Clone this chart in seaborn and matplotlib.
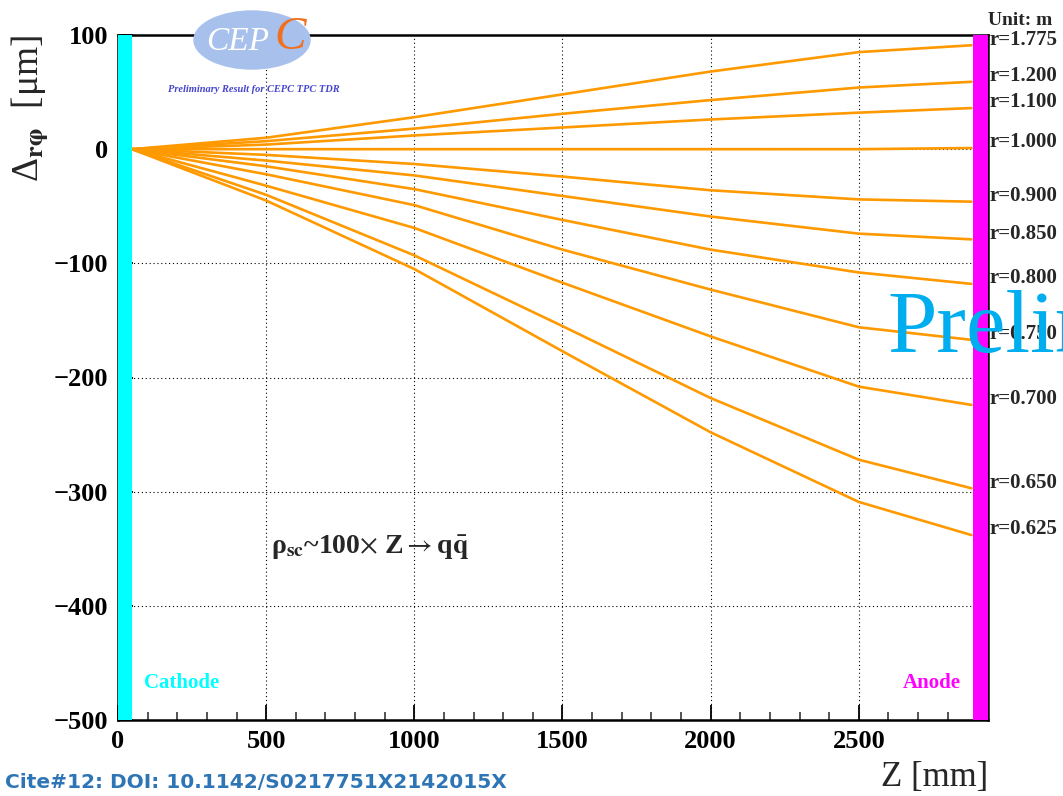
import numpy as np
import pandas as pd
import seaborn as sns
import matplotlib.pyplot as plt
from matplotlib.patches import Ellipse
import matplotlib.transforms as mtransforms

# drift distance Z [mm] where the curves were read
z_mm = [47, 500, 1000, 1500, 2000, 2500, 2880]

# r-phi distortion [um] for each radius
radii = ["1.775", "1.200", "1.100", "1.000", "0.900", "0.850",
         "0.800", "0.750", "0.700", "0.650", "0.625"]
d_1775 = [0, 10, 28, 48, 68, 85, 91]
d_1200 = [0, 7, 18, 31, 43, 54, 59]
d_1100 = [0, 4, 12, 19, 26, 32, 36]
d_1000 = [0, 0, 0, 0, 0, 0, 1]
d_0900 = [0, -5, -13, -24, -36, -44, -46]
d_0850 = [0, -10, -23, -41, -59, -74, -79]
d_0800 = [0, -15, -35, -62, -88, -108, -118]
d_0750 = [0, -22, -49, -88, -123, -156, -167]
d_0700 = [0, -32, -69, -117, -164, -208, -224]
d_0650 = [0, -40, -93, -155, -218, -272, -297]
d_0625 = [0, -45, -105, -177, -248, -309, -338]
series = [d_1775, d_1200, d_1100, d_1000, d_0900, d_0850,
          d_0800, d_0750, d_0700, d_0650, d_0625]

yticks = [100, 0, -100, -200, -300, -400, -500]
xticks = [0, 500, 1000, 1500, 2000, 2500]

rows = []
for r, vals in zip(radii, series):
    for z, v in zip(z_mm, vals):
        rows.append({"Z": z, "d": v, "r": r})
df = pd.DataFrame(rows)

sns.set_theme(style="ticks")
plt.rcParams["font.family"] = ["Liberation Serif", "DejaVu Serif"]
plt.rcParams["mathtext.fontset"] = "stix"

orange = "#ff9900"
fig = plt.figure(figsize=(10.63, 7.96), dpi=100)
ax = fig.add_axes([118 / 1063, 1 - 720 / 796, 870 / 1063, 685 / 796])

ax.axvspan(0, 47, color="#00ffff", zorder=3, lw=0)
ax.axvspan(2885, 2936, color="#ff00ff", zorder=3, lw=0)

sns.lineplot(data=df, x="Z", y="d", hue="r", palette=[orange] * len(radii),
             estimator=None, legend=False, lw=1.9, ax=ax, zorder=2)

ax.set_xlim(0, 2936)
ax.set_ylim(-500, 100)
ax.set_xticks(xticks)
ax.set_xticks(np.arange(100, 2936, 100), minor=True)
ax.set_yticks(yticks)
ax.set_yticklabels([str(t).replace("-", "\u2212") for t in yticks])
ax.grid(True, which="major", color="black", ls=(0, (1, 2.5)), lw=0.8)
ax.tick_params(axis="both", which="major", direction="in", length=11, width=1.3,
               labelsize=19, pad=7, colors="black")
ax.tick_params(axis="x", which="minor", direction="in", length=5.5, width=1.1, bottom=True)
for lab in ax.get_xticklabels() + ax.get_yticklabels():
    lab.set_fontweight("bold")
for s in ax.spines.values():
    s.set_linewidth(1.8)
    s.set_color("black")
ax.set_xlabel("")
ax.set_ylabel("")

# radius labels at the anode end
trans = mtransforms.blended_transform_factory(ax.transAxes, ax.transData)
for r, vals in zip(radii, series):
    ax.text(1.002, vals[-1] + 5, "r=" + r, transform=trans, fontsize=15,
            fontweight="bold", va="center", ha="left", clip_on=False)
ax.text(1.0, 113, "Unit: m", transform=trans, fontsize=14, fontweight="bold",
        va="center", ha="left", clip_on=False)

ax.text(88, -468, "Cathode", color="#00ffff", fontsize=15, fontweight="bold",
        va="center", ha="left", zorder=4)
ax.text(2845, -468, "Anode", color="#ff00ff", fontsize=15, fontweight="bold",
        va="center", ha="right", zorder=4)
ax.text(517, -349, r"$\mathregular{ρ}_{\mathbf{sc}}$~100$\times$ Z$\rightarrow$q$\bar{\mathbf{q}}$",
        fontsize=20, fontweight="bold", va="center", ha="left")

fig.text(30 / 1063, 1 - 35 / 796, r"$\mathregular{Δ}_{\mathbf{r\varphi}}$  [μm]",
         rotation=90, fontsize=27, ha="center", va="top")
fig.text(988 / 1063, 1 - 794 / 796, "Z [mm]", fontsize=25, ha="right", va="bottom")

# CEPC logo
logo = Ellipse((252 / 1063, 1 - 40 / 796), 116 / 1063, 58 / 796,
               transform=fig.transFigure, color="#a8c0ec", zorder=5)
fig.patches.append(logo)
fig.text(238 / 1063, 1 - 42 / 796, "CEP", color="white", fontsize=24,
         style="italic", ha="center", va="center", zorder=6)
fig.text(290 / 1063, 1 - 38 / 796, "C", color="#f07020", fontsize=34,
         style="italic", ha="center", va="center", zorder=6)
fig.text(254 / 1063, 1 - 89 / 796, "Preliminary Result for CEPC TPC TDR",
         color="#4444cc", fontsize=7.5, style="italic", fontweight="bold",
         ha="center", va="center")

fig.text(887 / 1063, 1 - 352 / 796, "Prelim", color="#00aeef", fontsize=64,
         ha="left", va="baseline", zorder=10)

fig.text(5 / 1063, 1 - 783 / 796, "Cite#12: DOI: 10.1142/S0217751X2142015X",
         color="#2e75b6", fontsize=14.5, fontweight="bold",
         family=["Liberation Sans Narrow", "DejaVu Sans"], ha="left", va="center")

fig.savefig("out.png", dpi=100)
